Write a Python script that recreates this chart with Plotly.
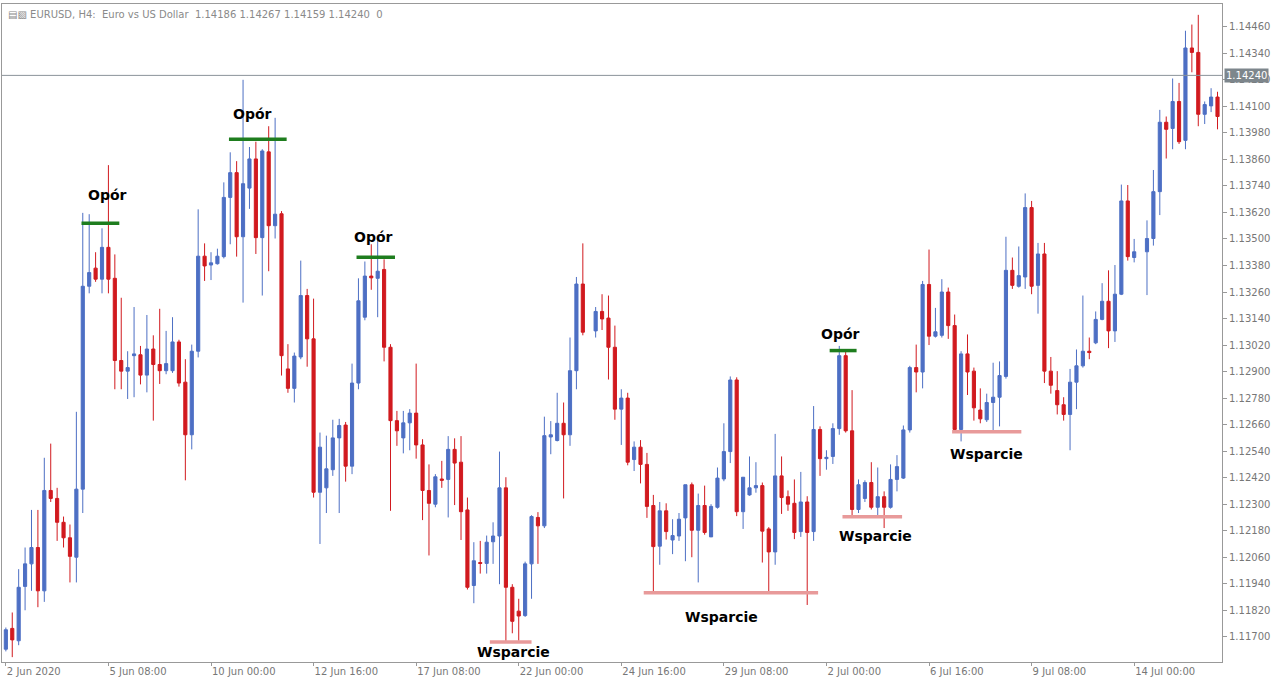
import plotly.graph_objects as go

N = None
opens = [1.11644,1.11738,1.11682,1.11928,1.12030,1.12104,1.11908,1.12362,1.12326,1.12218,
1.12148,1.12060,1.12368,1.13286,1.13368,1.13318,1.13462,1.13322,1.12950,1.12902,
1.12972,1.12976,1.12884,1.13002,1.12932,1.12904,1.12904,1.13034,1.12852,1.12614,
1.12992,1.13422,1.13382,1.13388,1.13420,1.13688,1.13800,1.13510,1.13730,1.13862,
1.13506,1.13894,1.13560,1.13614,1.12912,1.12824,1.12966,1.13244,1.13048,1.12354,
1.12374,1.12456,1.12600,1.12658,1.12472,1.12848,1.13146,1.13332,1.13322,1.13362,
1.13010,1.12678,1.12600,1.12668,1.12712,1.12568,1.12362,1.12300,1.12414,1.12412,
1.12548,1.12490,1.12274,1.11932,1.12036,1.12032,1.12130,1.12156,1.12374,1.11924,
1.11816,1.11796,1.12030,1.12240,1.12202,1.12604,1.12588,1.12666,1.12614,1.12904,
1.13296,N,1.13084,1.13172,1.13142,1.13010,1.12730,1.12780,1.12502,1.12558,
1.12480,1.12294,1.12110,1.12270,1.12138,1.12156,1.12238,1.12388,1.12182,1.12294,
1.12152,1.12286,1.12414,1.12538,1.12862,1.12266,1.12342,1.12374,1.12384,1.12188,
1.12084,1.12428,1.12334,1.12304,1.12176,1.12310,1.12176,1.12638,1.12506,1.12516,
1.12642,1.12972,1.12632,1.12276,1.12326,1.12398,1.12286,1.12334,1.12286,1.12412,
1.12418,1.12636,1.12918,1.12898,1.13294,1.13060,1.13064,1.13260,1.13108,1.12638,
1.12980,1.12902,1.12726,1.12682,1.12760,1.12784,1.12878,1.13358,1.13286,1.13328,
1.13642,1.13290,1.13432,1.12902,1.12814,1.12750,1.12706,1.12852,1.12926,1.12992,
1.13030,1.13136,1.13218,1.13084,1.13250,1.13672,1.13416,N,1.13442,1.13502,
1.13714,1.14028,1.14000,1.14122,1.13946,1.14364,1.14344,1.14064,1.14102,1.14142]
highs = [1.11742,1.11810,1.12006,1.12104,1.12274,1.12274,1.12510,1.12574,1.12374,1.12244,
1.12208,1.12718,1.13618,1.13612,1.13440,1.13548,1.13834,1.13430,1.13234,1.12992,
1.13192,1.13016,1.13156,1.13064,1.13184,1.13084,1.13146,1.13044,1.12956,1.13022,
1.13634,1.13480,1.13440,1.13456,1.13756,1.13892,1.13852,1.14220,1.13916,1.13940,
1.13906,1.14010,1.14048,1.13626,1.13024,1.12986,1.13402,1.13274,1.13230,1.12624,
1.12610,1.12682,1.12686,1.12672,1.12936,1.13322,1.13398,1.13476,1.13506,1.13408,
1.13024,1.12722,1.12722,1.12730,1.12936,1.12594,1.12480,1.12436,1.12496,1.12608,
1.12598,1.12608,1.12330,1.12128,1.12134,1.12158,1.12218,1.12538,1.12422,1.11938,
1.11872,1.12040,1.12250,1.12264,1.12696,1.12676,1.12804,1.12760,1.13054,1.13328,
1.13480,N,1.13192,1.13250,1.13244,1.13108,1.12820,1.12804,1.12584,1.12590,
1.12532,1.12342,1.12310,1.12304,1.12232,1.12260,1.12388,1.12398,1.12348,1.12384,
1.12300,1.12466,1.12666,1.12878,1.12874,1.12422,1.12516,1.12490,1.12398,1.12196,
1.12618,1.12516,1.12362,1.12412,1.12446,1.12336,1.12744,1.12652,1.12544,1.12666,
1.13016,1.12992,1.12816,1.12412,1.12408,1.12490,1.12466,1.12358,1.12480,1.12522,
1.12656,1.12926,1.13022,1.13310,1.13452,1.13188,1.13318,1.13280,1.13158,1.12992,
1.13068,1.12918,1.12824,1.12800,1.12940,1.12946,1.13510,1.13416,1.13466,1.13706,
1.13672,1.13482,1.13482,1.12966,1.12902,1.12784,1.12912,1.13000,1.13244,1.13054,
1.13172,1.13300,1.13358,1.13382,1.13746,1.13744,1.13500,N,1.13584,1.13812,
1.14084,1.14054,1.14226,1.14206,1.14442,1.14470,1.14514,1.14122,1.14182,1.14166]
lows = [1.11634,1.11608,1.11662,1.11820,1.11908,1.11834,1.11858,1.12310,1.12134,1.12104,
1.11946,1.11946,1.12260,1.13254,1.13306,1.13254,1.13254,1.12820,1.12820,1.12776,
1.12784,1.12842,1.12806,1.12678,1.12844,1.12888,1.12894,1.12832,1.12408,1.12548,
1.12964,1.13310,1.13314,1.13384,1.13412,1.13476,1.13420,1.13212,1.13636,1.13432,
1.13244,1.13354,1.13502,1.12882,1.12804,1.12760,1.12956,1.12922,1.12330,1.12120,
1.12260,1.12428,1.12260,1.12402,1.12436,1.12820,1.13132,1.13270,1.13146,1.12946,
1.12270,1.12564,1.12530,1.12544,1.12506,1.12228,1.12068,1.12286,1.12374,1.12240,
1.12296,1.12138,1.11914,1.11852,1.11986,1.11986,1.12030,1.11938,1.11672,1.11716,
1.11682,1.11790,1.11872,1.12030,1.12192,1.12526,1.12584,1.12326,1.12564,1.12820,
1.13064,N,1.13054,1.13088,1.12864,1.12682,1.12568,1.12476,1.12450,1.12394,
1.12238,1.11902,1.12026,1.12140,1.12074,1.12134,1.12042,1.12060,1.11946,1.12162,
1.12152,1.12280,1.12404,1.12486,1.12246,1.12188,1.12338,1.12352,1.12036,1.11902,
1.12026,1.12256,1.12270,1.12142,1.12152,1.11844,1.12134,1.12428,1.12456,1.12482,
1.12614,1.12624,1.12244,1.12260,1.12310,1.12276,1.12238,1.12192,1.12280,1.12358,
1.12414,1.12624,1.12806,1.12824,1.13020,1.13054,1.13054,1.13048,1.12632,1.12584,
1.12794,1.12678,1.12666,1.12672,1.12624,1.12652,1.12868,1.13274,1.13280,1.13274,
1.13250,1.13162,1.12848,1.12800,1.12706,1.12678,1.12544,1.12730,1.12918,1.12956,
1.13024,1.13132,1.13006,1.13034,1.13246,1.13402,1.13394,N,1.13246,1.13470,
1.13608,1.13864,1.13906,1.13930,1.13906,1.14254,1.14010,1.14020,1.14074,1.13996]
closes = [1.11732,1.11686,1.11924,1.12030,1.12104,1.11908,1.12362,1.12326,1.12218,1.12148,
1.12064,1.12368,1.13286,1.13348,1.13318,1.13462,1.13318,1.12950,1.12902,1.12918,
1.12980,1.12884,1.13002,1.12932,1.12904,1.12936,1.13034,1.12848,1.12614,1.12992,
1.13422,1.13378,1.13392,1.13422,1.13688,1.13800,1.13510,1.13750,1.13862,1.13506,
1.13898,1.13560,1.13612,1.12972,1.12824,1.12970,1.13244,1.13048,1.12354,1.12558,
1.12460,1.12600,1.12656,1.12472,1.12848,1.13220,1.13332,1.13324,1.13354,1.13010,
1.12678,1.12632,1.12668,1.12712,1.12568,1.12362,1.12304,1.12424,1.12408,1.12548,
1.12486,1.12266,1.11924,1.12044,1.12032,1.12128,1.12156,1.12374,1.11924,1.11770,
1.11794,1.12030,1.12244,1.12202,1.12610,1.12614,1.12666,1.12614,1.12904,1.13296,
1.13078,N,1.13172,1.13138,1.13010,1.12730,1.12780,1.12490,1.12558,1.12480,
1.12290,1.12108,1.12270,1.12176,1.12158,1.12232,1.12388,1.12182,1.12294,1.12172,
1.12290,1.12418,1.12538,1.12862,1.12266,1.12422,1.12374,1.12384,1.12178,1.12084,
1.12428,1.12330,1.12300,1.12172,1.12310,1.12172,1.12638,1.12506,1.12512,1.12642,
1.12972,1.12632,1.12276,1.12388,1.12398,1.12286,1.12334,1.12286,1.12412,1.12470,
1.12636,1.12918,1.12898,1.13294,1.13060,1.13080,1.13260,1.13108,1.12638,1.12980,
1.12898,1.12736,1.12686,1.12760,1.12784,1.12882,1.13358,1.13290,1.13334,1.13642,
1.13286,1.13432,1.12902,1.12838,1.12750,1.12706,1.12852,1.12926,1.12992,1.12986,
1.13136,1.13218,1.13084,1.13250,1.13672,1.13420,1.13442,N,1.13502,1.13714,
1.14028,1.13996,1.14122,1.13940,1.14364,1.14344,1.14064,1.14108,1.14142,1.14054]

bar_index = list(range(len(opens)))
tick_pos = [0, 16, 32, 48, 64, 80, 96, 112, 128, 144, 160, 176]
tick_text = ["2 Jun 2020", "5 Jun 08:00", "10 Jun 00:00", "12 Jun 16:00", "17 Jun 08:00",
             "22 Jun 00:00", "24 Jun 16:00", "29 Jun 08:00", "2 Jul 00:00", "6 Jul 16:00",
             "9 Jul 08:00", "14 Jul 00:00"]
price_ticks = [1.11700 + 0.0012 * k for k in range(24)]
price_text = ["%.5f" % v for v in price_ticks]
current_price = 1.14240

levels = [
    ("Opór", 11.8, 17.7, 1.13571, 15.8, 1.13700, "res"),
    ("Opór", 34.8, 43.8, 1.13951, 38.4, 1.14064, "res"),
    ("Opór", 54.7, 60.7, 1.13417, 57.3, 1.13511, "res"),
    ("Wsparcie", 75.5, 82.0, 1.11677, 79.2, 1.11630, "sup"),
    ("Wsparcie", 99.5, 126.7, 1.11899, 111.6, 1.11790, "sup"),
    ("Opór", 128.5, 132.7, 1.12995, 130.2, 1.13068, "res"),
    ("Wsparcie", 130.5, 139.8, 1.12243, 135.6, 1.12157, "sup"),
    ("Wsparcie", 147.6, 158.4, 1.12628, 153.0, 1.12527, "sup"),
]

fig = go.Figure(go.Candlestick(
    x=bar_index, open=opens, high=highs, low=lows, close=closes,
    increasing=dict(line=dict(color="#4d6fc4", width=1), fillcolor="#4d6fc4"),
    decreasing=dict(line=dict(color="#d11a1f", width=1), fillcolor="#d11a1f"),
    whiskerwidth=0, showlegend=False, hoverinfo="skip"))

fig.add_shape(type="line", xref="paper", x0=0, x1=1, y0=current_price, y1=current_price,
              line=dict(color="#8a9299", width=1))
fig.add_annotation(xref="paper", x=1.0, y=current_price, xanchor="left", text="1.14240",
                   showarrow=False, bgcolor="#7d868c", font=dict(color="white", size=10, family="DejaVu Sans"),
                   borderpad=1, xshift=2)

for name, x0, x1, p, lx, lp, kind in levels:
    col = "#1e7d1e" if kind == "res" else "#e89a9a"
    fig.add_shape(type="line", x0=x0, x1=x1, y0=p, y1=p, line=dict(color=col, width=3.5))
    fig.add_annotation(x=lx, y=lp, text="<b>%s</b>" % name, showarrow=False,
                       font=dict(size=14, color="black", family="DejaVu Sans"))

fig.add_annotation(xref="paper", yref="paper", x=0.0, y=1.0, xanchor="left", yanchor="top",
                   text="\u25a4\u25a7 EURUSD, H4:  Euro vs US Dollar  1.14186 1.14267 1.14159 1.14240  0",
                   showarrow=False, font=dict(size=10, color="#8a8a8a", family="DejaVu Sans"), xshift=4, yshift=-3)

fig.update_layout(
    width=1280, height=678, margin=dict(l=2, r=58, t=4, b=16),
    paper_bgcolor="white", plot_bgcolor="white",
    xaxis=dict(range=[-0.6, 189.7], tickvals=tick_pos, ticktext=tick_text, ticks="outside",
               ticklen=3, tickcolor="#999", ticklabelposition="outside right",
               tickfont=dict(size=10, color="#777", family="DejaVu Sans"),
               showgrid=False, zeroline=False, rangeslider=dict(visible=False),
               showline=True, linecolor="#999", mirror=True),
    yaxis=dict(side="right", range=[1.11586, 1.14563], tickvals=price_ticks, ticktext=price_text,
               ticks="outside", ticklen=4, tickcolor="#999",
               tickfont=dict(size=10, color="#777", family="DejaVu Sans"),
               showgrid=False, zeroline=False, showline=True, linecolor="#999", mirror=True),
)
fig.write_html("out.html", config={"displayModeBar": False},
               post_script="document.body.style.margin='0';")
